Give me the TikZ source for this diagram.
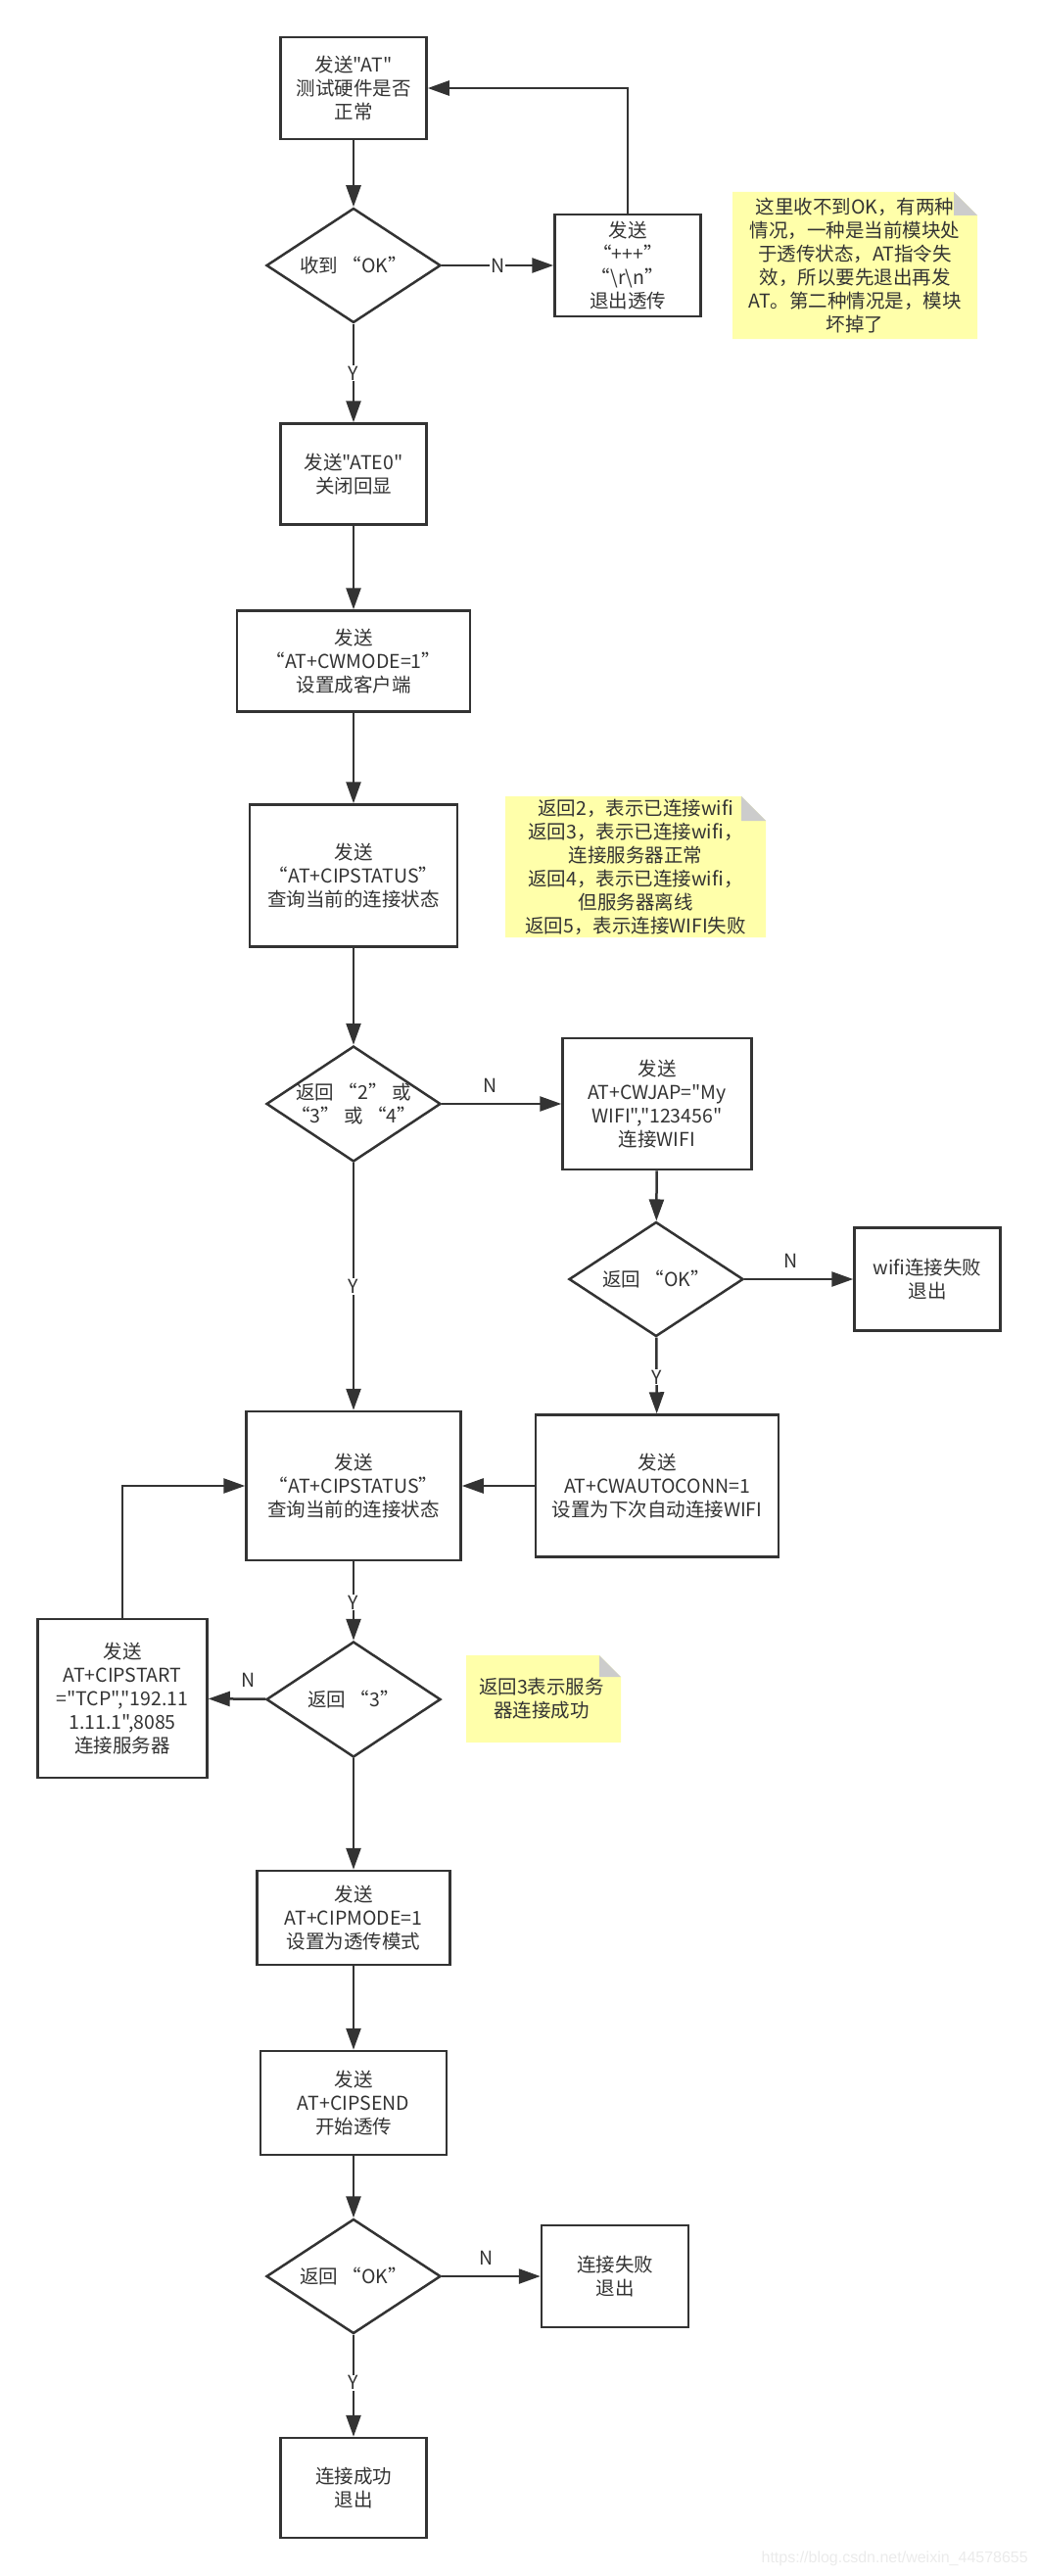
\documentclass[tikz,border=0pt]{standalone}
\usepackage{fontspec}
\setmainfont{Noto Sans CJK SC}[Ligatures=TeXOff]
\newfontfamily\wmfont{Liberation Sans}
\usetikzlibrary{shapes.geometric,arrows.meta}
\definecolor{linec}{HTML}{333333}
\definecolor{notey}{HTML}{FFFFAA}
\definecolor{foldg}{HTML}{CCCCCC}
\tikzset{
  base/.style={text=linec, font=\fontsize{19.5}{24}\selectfont, align=center},
  box/.style={base, draw=linec, line width=2.5pt, fill=white, rectangle, inner sep=2pt},
  dia/.style={base, draw=linec, line width=2.5pt, fill=white, diamond, aspect=1.5, inner sep=0pt},
  conn/.style={draw=linec, line width=2.5pt, -{Triangle[length=22pt,width=15pt]}},
  cutlab/.style={base, fill=white, inner sep=1pt},
  toplab/.style={base, inner sep=0pt},
  notetext/.style={base, inner sep=0pt}
}
\newcommand{\notebox}[5]{%
  \fill[notey] (#1,#2) -- ({#3-#5},#2) -- (#3,{#2+#5}) -- (#3,#4) -- (#1,#4) -- cycle;
  \fill[foldg] ({#3-#5},#2) -- (#3,{#2+#5}) -- ({#3-#5},{#2+#5}) -- cycle;
}
\begin{document}
\begin{tikzpicture}[x=1pt,y=-1pt]
\useasboundingbox (0,0) rectangle (1060,2630);
\fill[white] (0,0) rectangle (1060,2630);

% notes
\notebox{748}{196}{998}{346}{24}
\node[notetext] (n1) at (873,271) {这里收不到OK，有两种\\情况，一种是当前模块处\\于透传状态，AT指令失\\效，所以要先退出再发\\AT。第二种情况是，模块\\坏掉了};
\notebox{516}{813}{782}{957}{25}
\node[notetext] (n2) at (649,885) {返回2，表示已连接wifi\\返回3，表示已连接wifi，\\连接服务器正常\\返回4，表示已连接wifi，\\但服务器离线\\返回5，表示连接WIFI失败};
\notebox{476}{1690}{634}{1779}{22}
\node[notetext] (n3) at (553,1734) {返回3表示服务\\器连接成功};

% nodes
\node[box, minimum width=149pt, minimum height=104pt] (b1) at (361,90) {发送"AT"\\测试硬件是否\\正常};
\node[dia, minimum width=178pt, minimum height=117pt] (d1) at (361,271) {收到 “OK”};
\node[box, minimum width=149pt, minimum height=104pt] (b2) at (641,271) {发送\\“+++”\\“\textbackslash r\textbackslash n”\\退出透传};
\node[box, minimum width=149pt, minimum height=103pt] (b3) at (361,484) {发送"ATE0"\\关闭回显};
\node[box, minimum width=238pt, minimum height=103pt] (b4) at (361,675) {发送\\“AT+CWMODE=1”\\设置成客户端};
\node[box, minimum width=212pt, minimum height=145pt] (b5) at (361,894) {发送\\“AT+CIPSTATUS”\\查询当前的连接状态};
\node[dia, inner sep=-6pt, minimum width=178pt, minimum height=118pt] (d2) at (361,1127) {返回 “2” 或\\“3” 或 “4”};
\node[box, minimum width=193pt, minimum height=134pt] (b9) at (671,1127) {发送\\AT+CWJAP="My\\WIFI","123456"\\连接WIFI};
\node[dia, minimum width=178pt, minimum height=117pt] (d3) at (670,1306) {返回 “OK”};
\node[box, minimum width=149pt, minimum height=105pt] (b10) at (947,1306) {wifi连接失败\\退出};
\node[box, minimum width=248pt, minimum height=145pt] (b11) at (671,1517) {发送\\AT+CWAUTOCONN=1\\设置为下次自动连接WIFI};
\node[box, minimum width=219pt, minimum height=152pt] (b6) at (361,1517) {发送\\“AT+CIPSTATUS”\\查询当前的连接状态};
\node[dia, minimum width=178pt, minimum height=118pt] (d4) at (361,1735) {返回 “3”};
\node[box, minimum width=173pt, minimum height=162pt] (b12) at (125,1734) {发送\\AT+CIPSTART\\="TCP","192.11\\1.11.1",8085\\连接服务器};
\node[box, minimum width=197pt, minimum height=96pt] (b7) at (361,1958) {发送\\AT+CIPMODE=1\\设置为透传模式};
\node[box, minimum width=190pt, minimum height=106pt] (b8) at (361,2147) {发送\\AT+CIPSEND\\开始透传};
\node[dia, minimum width=178pt, minimum height=117pt] (d5) at (361,2324) {返回 “OK”};
\node[box, minimum width=150pt, minimum height=104pt] (b13) at (628,2324) {连接失败\\退出};
\node[box, minimum width=149pt, minimum height=102pt] (b14) at (361,2540) {连接成功\\退出};

% connectors
\draw[conn] (b1) -- (d1);
\draw[conn] (d1) -- node[cutlab, pos=0.5] {N} (b2);
\draw[conn] (b2.north) |- (b1.east);
\draw[conn] (d1) -- node[cutlab, pos=0.5] {Y} (b3);
\draw[conn] (b3) -- (b4);
\draw[conn] (b4) -- (b5);
\draw[conn] (b5) -- (d2);
\draw[conn] (d2) -- node[toplab, pos=0.4, yshift=19pt] {N} (b9);
\draw[conn] (d2) -- node[cutlab, pos=0.5] {Y} (b6);
\draw[conn] (b9) -- (d3);
\draw[conn] (d3) -- node[toplab, pos=0.43, yshift=19pt] {N} (b10);
\draw[conn] (d3) -- node[cutlab, pos=0.52] {Y} (b11);
\draw[conn] (b11) -- (b6);
\draw[conn] (b6) -- node[cutlab, pos=0.52] {Y} (d4);
\draw[conn] (d4) -- node[toplab, pos=0.3, yshift=19pt] {N} (b12);
\draw[conn] (b12.north) |- (b6.west);
\draw[conn] (d4) -- (b7);
\draw[conn] (b7) -- (b8);
\draw[conn] (b8) -- (d5);
\draw[conn] (d5) -- node[toplab, pos=0.45, yshift=19pt] {N} (b13);
\draw[conn] (d5) -- node[cutlab, pos=0.47] {Y} (b14);

% watermark
\node[text=black!8, font=\wmfont\fontsize{16}{18}\selectfont, anchor=east, inner sep=0pt] (wm) at (1050,2612) {https://blog.csdn.net/weixin\_44578655};
\end{tikzpicture}
\end{document}
